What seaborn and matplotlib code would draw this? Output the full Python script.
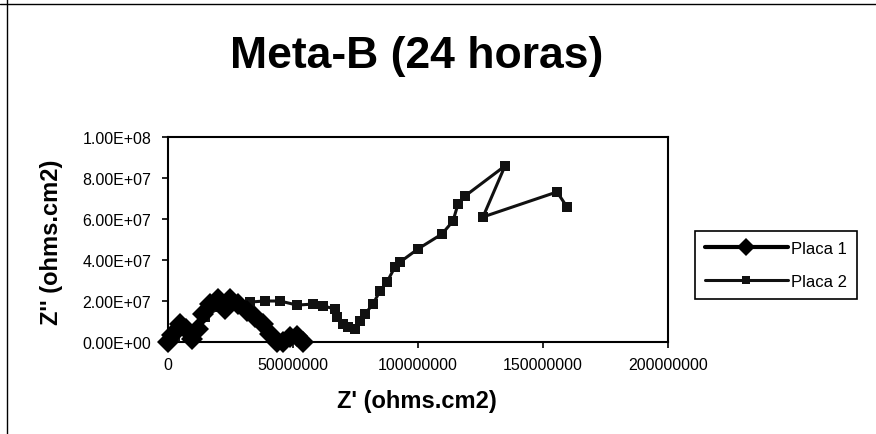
import matplotlib
matplotlib.use("Agg")
import matplotlib.pyplot as plt
from matplotlib.lines import Line2D
from matplotlib.ticker import FuncFormatter, MultipleLocator
import seaborn as sns
import pandas as pd

# ---- data ----
series_names = ["Placa 1", "Placa 2"]

placa1_x = [0, 1.6e6, 4.8e6, 7.2e6, 9.6e6, 1.2e7, 1.4e7, 1.68e7, 2.0e7, 2.28e7,
            2.48e7, 2.8e7, 3.16e7, 3.48e7, 3.8e7, 4.08e7, 4.36e7, 4.6e7, 4.88e7,
            5.16e7, 5.4e7]
placa1_y = [0, 3.4e6, 8.8e6, 6.3e6, 1.5e6, 6.3e6, 1.37e7, 1.85e7, 2.1e7, 1.6e7,
            2.1e7, 1.85e7, 1.5e7, 1.22e7, 8.8e6, 3.9e6, 0, 0, 2.4e6,
            2.9e6, 0]

placa2_x = [0, 2.8e6, 8.8e6, 1.48e7, 2.08e7, 2.68e7, 3.28e7, 3.88e7, 4.48e7,
            5.16e7, 5.8e7, 6.2e7, 6.68e7, 6.76e7, 7.0e7, 7.2e7, 7.48e7, 7.68e7,
            7.88e7, 8.2e7, 8.48e7, 8.76e7, 9.08e7, 9.28e7, 1.0e8, 1.096e8,
            1.14e8, 1.16e8, 1.188e8, 1.348e8, 1.26e8, 1.556e8, 1.596e8]
placa2_y = [0, 2.4e6, 6.3e6, 1.22e7, 1.71e7, 1.95e7, 1.95e7, 2.0e7, 2.0e7,
            1.8e7, 1.85e7, 1.76e7, 1.61e7, 1.22e7, 8.8e6, 7.3e6, 6.3e6, 1.02e7,
            1.37e7, 1.85e7, 2.49e7, 2.93e7, 3.66e7, 3.9e7, 4.54e7, 5.27e7,
            5.9e7, 6.73e7, 7.12e7, 8.59e7, 6.1e7, 7.32e7, 6.59e7]

title_text = "Meta-B (24 horas)"
x_label = "Z' (ohms.cm2)"
y_label = "Z'' (ohms.cm2)"

df1 = pd.DataFrame({"x": placa1_x, "y": placa1_y})
df2 = pd.DataFrame({"x": placa2_x, "y": placa2_y})

sns.set_style("ticks")
plt.rcParams["font.family"] = ["Liberation Sans", "DejaVu Sans"]
plt.rcParams["text.color"] = "black"
plt.rcParams["axes.labelcolor"] = "black"
plt.rcParams["xtick.color"] = "black"
plt.rcParams["ytick.color"] = "black"

W, H = 876, 435
fig = plt.figure(figsize=(W / 100, H / 100), dpi=100)
ax = fig.add_axes([168 / W, 1 - 343 / H, 500 / W, 205 / H])

sns.lineplot(data=df2, x="x", y="y", ax=ax, sort=False, estimator=None,
             color="#111111", linewidth=2.2, marker="s", markersize=7,
             markeredgewidth=0, label=series_names[1], clip_on=False, zorder=3)
sns.lineplot(data=df1, x="x", y="y", ax=ax, sort=False, estimator=None,
             color="black", linewidth=3, marker="D", markersize=11.5,
             markeredgewidth=0, label=series_names[0], clip_on=False, zorder=4)

ax.set_xlim(0, 2e8)
ax.set_ylim(0, 1e8)
ax.xaxis.set_major_locator(MultipleLocator(5e7))
ax.yaxis.set_major_locator(MultipleLocator(2e7))
ax.xaxis.set_major_formatter(FuncFormatter(lambda v, p: f"{int(round(v))}"))
ax.yaxis.set_major_formatter(FuncFormatter(lambda v, p: f"{v:.2E}"))

for s in ax.spines.values():
    s.set_visible(True)
    s.set_color("black")
    s.set_linewidth(1.5)

ax.tick_params(axis="both", direction="out", length=4, width=1.2,
               colors="black", labelcolor="black", labelsize=11.5)
ax.tick_params(axis="y", pad=8)
ax.tick_params(axis="x", pad=7)

ax.set_xlabel("")
ax.set_ylabel("")
fig.text(417 / W, 1 - 408 / H, x_label, ha="center", va="baseline",
         fontsize=17, fontweight="bold", color="black")
fig.text(52 / W, 1 - 242 / H, y_label, ha="center", va="center",
         rotation=90, fontsize=17, fontweight="bold", color="black")
fig.text(417 / W, 1 - 68 / H, title_text, ha="center", va="baseline",
         fontsize=32, fontweight="bold", color="black")

# legend (Placa 1 on top)
handles, labels = ax.get_legend_handles_labels()
order = [labels.index(n) for n in series_names]
leg = ax.legend([handles[i] for i in order], [labels[i] for i in order],
                loc="center", bbox_to_anchor=(776 / W, 1 - 266 / H),
                bbox_transform=fig.transFigure, fontsize=12, frameon=True,
                fancybox=False, shadow=False, framealpha=1, edgecolor="black",
                handlelength=5.0, handletextpad=0.2, labelspacing=1.1,
                borderpad=0.6, borderaxespad=0, markerscale=0.8)
leg.get_frame().set_linewidth(1.2)
for t in leg.get_texts():
    t.set_color("black")

# outer chart border (only top and left visible in the scan)
fig.add_artist(Line2D([0, 1], [1 - 5 / H, 1 - 5 / H], transform=fig.transFigure,
                      color="black", linewidth=1))
fig.add_artist(Line2D([7 / W, 7 / W], [0, 1], transform=fig.transFigure,
                      color="black", linewidth=1))

fig.savefig("out.png", dpi=100)
